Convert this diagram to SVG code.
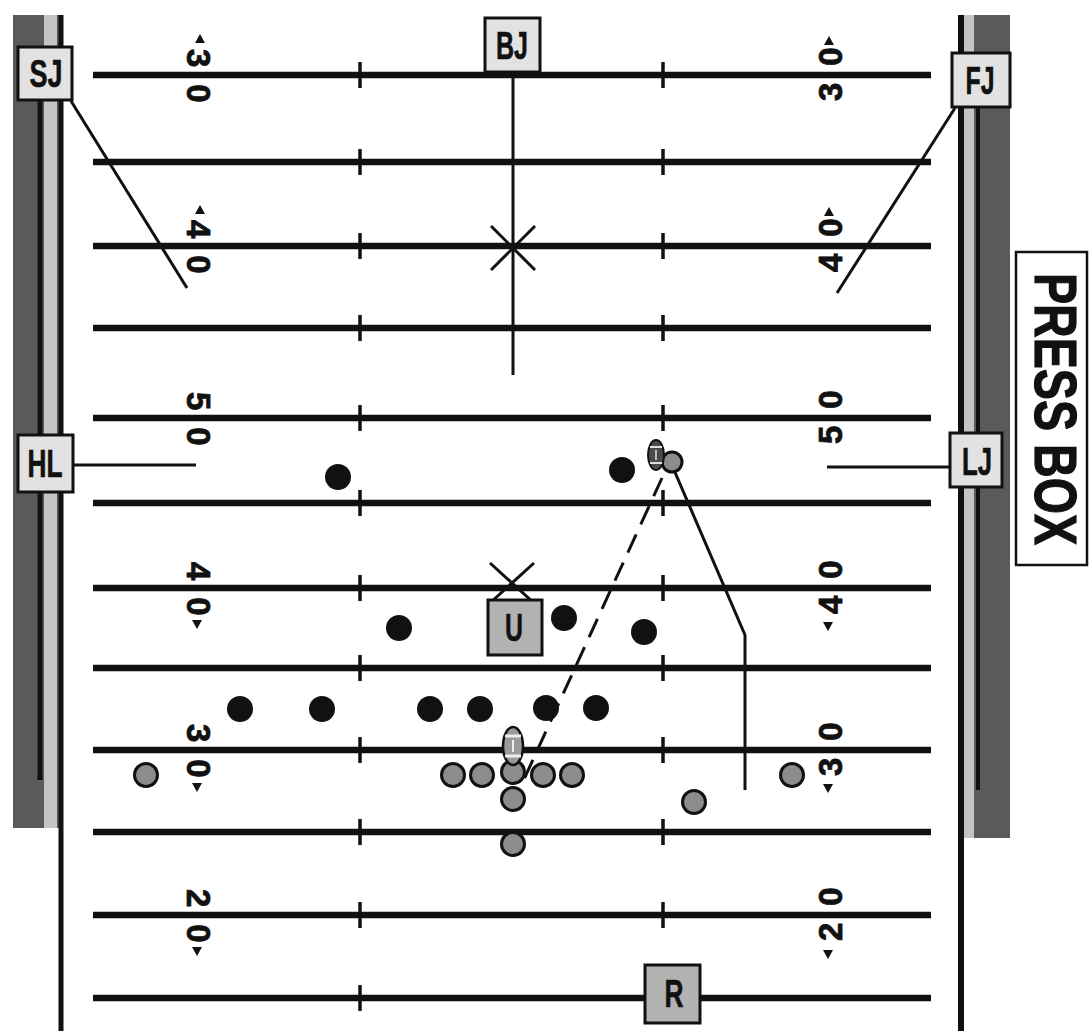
<svg xmlns="http://www.w3.org/2000/svg" width="1089" height="1031" viewBox="0 0 1089 1031">
<style>
.yl{stroke:#111;stroke-width:6.5;}
.tk{stroke:#111;stroke-width:3.5;}
.num{font-family:"Liberation Sans",Arial,sans-serif;font-weight:bold;font-size:33px;fill:#111;stroke:#111;stroke-width:0.8;letter-spacing:17px;}
.arw{fill:#111;}
.box{fill:#e2e2e2;stroke:#111;stroke-width:3;}
.boxd{fill:#b2b2b2;stroke:#111;stroke-width:3;}
.lbl{font-family:"Liberation Sans",Arial,sans-serif;font-weight:bold;font-size:38px;fill:#111;stroke:#111;stroke-width:0.6;text-anchor:middle;}
.ln{stroke:#111;stroke-width:3;fill:none;}
.def{fill:#111;}
.off{fill:#8c8c8c;stroke:#111;stroke-width:3;}
.press{font-family:"Liberation Sans",Arial,sans-serif;font-weight:bold;font-size:60px;fill:#111;stroke:#111;stroke-width:1.2;}
</style>
<rect x="0" y="0" width="1089" height="1031" fill="#ffffff"/>

<g id="sidelines">
  <rect x="13" y="15" width="46" height="813" fill="#5a5a5a"/>
  <rect x="44" y="15" width="13" height="813" fill="#c4c4c4"/>
  <line x1="40" y1="60" x2="40" y2="780" stroke="#111" stroke-width="5"/>
  <line x1="61" y1="15" x2="61" y2="1031" stroke="#111" stroke-width="5"/>
  <rect x="964" y="15" width="46" height="823" fill="#5a5a5a"/>
  <rect x="964" y="15" width="10" height="823" fill="#c4c4c4"/>
  <line x1="978" y1="60" x2="978" y2="790" stroke="#111" stroke-width="4"/>
  <line x1="961" y1="15" x2="961" y2="1031" stroke="#111" stroke-width="6"/>
</g>

<g id="yardlines">
  <line class="yl" x1="93" y1="75" x2="931" y2="75"/>
  <line class="yl" x1="93" y1="162" x2="931" y2="162"/>
  <line class="yl" x1="93" y1="246" x2="931" y2="246"/>
  <line class="yl" x1="93" y1="328" x2="931" y2="328"/>
  <line class="yl" x1="93" y1="418" x2="931" y2="418"/>
  <line class="yl" x1="93" y1="503" x2="931" y2="503"/>
  <line class="yl" x1="93" y1="588" x2="931" y2="588"/>
  <line class="yl" x1="93" y1="668" x2="931" y2="668"/>
  <line class="yl" x1="93" y1="750" x2="931" y2="750"/>
  <line class="yl" x1="93" y1="832" x2="931" y2="832"/>
  <line class="yl" x1="93" y1="915" x2="931" y2="915"/>
  <line class="yl" x1="93" y1="998" x2="931" y2="998"/>
</g>
<g id="hashmarks">
  <line class="tk" x1="360" y1="62" x2="360" y2="88"/><line class="tk" x1="663" y1="62" x2="663" y2="88"/>
  <line class="tk" x1="360" y1="149" x2="360" y2="175"/><line class="tk" x1="663" y1="149" x2="663" y2="175"/>
  <line class="tk" x1="360" y1="233" x2="360" y2="259"/><line class="tk" x1="663" y1="233" x2="663" y2="259"/>
  <line class="tk" x1="360" y1="315" x2="360" y2="341"/><line class="tk" x1="663" y1="315" x2="663" y2="341"/>
  <line class="tk" x1="360" y1="405" x2="360" y2="431"/><line class="tk" x1="663" y1="405" x2="663" y2="431"/>
  <line class="tk" x1="360" y1="490" x2="360" y2="516"/><line class="tk" x1="663" y1="490" x2="663" y2="516"/>
  <line class="tk" x1="360" y1="575" x2="360" y2="601"/><line class="tk" x1="663" y1="575" x2="663" y2="601"/>
  <line class="tk" x1="360" y1="655" x2="360" y2="681"/><line class="tk" x1="663" y1="655" x2="663" y2="681"/>
  <line class="tk" x1="360" y1="737" x2="360" y2="763"/><line class="tk" x1="663" y1="737" x2="663" y2="763"/>
  <line class="tk" x1="360" y1="819" x2="360" y2="845"/><line class="tk" x1="663" y1="819" x2="663" y2="845"/>
  <line class="tk" x1="360" y1="902" x2="360" y2="928"/><line class="tk" x1="663" y1="902" x2="663" y2="928"/>
  <line class="tk" x1="360" y1="985" x2="360" y2="1011"/>
</g>

<g id="yard-numbers">
  <text class="num" transform="translate(187,49) rotate(90)">30</text>
  <text class="num" transform="translate(187,220) rotate(90)">40</text>
  <text class="num" transform="translate(187,392) rotate(90)">50</text>
  <text class="num" transform="translate(187,562) rotate(90)">40</text>
  <text class="num" transform="translate(187,724) rotate(90)">30</text>
  <text class="num" transform="translate(187,889) rotate(90)">20</text>
  <text class="num" transform="translate(842,101) rotate(-90)">30</text>
  <text class="num" transform="translate(842,272) rotate(-90)">40</text>
  <text class="num" transform="translate(842,444) rotate(-90)">50</text>
  <text class="num" transform="translate(842,614) rotate(-90)">40</text>
  <text class="num" transform="translate(842,776) rotate(-90)">30</text>
  <text class="num" transform="translate(842,941) rotate(-90)">20</text>
  <polygon class="arw" points="200,34 195,43 205,43"/>
  <polygon class="arw" points="200,205 195,214 205,214"/>
  <polygon class="arw" points="192,620 202,620 197,629"/>
  <polygon class="arw" points="192,783 202,783 197,792"/>
  <polygon class="arw" points="192,947 202,947 197,956"/>
  <polygon class="arw" points="829,36 824,45 834,45"/>
  <polygon class="arw" points="829,207 824,216 834,216"/>
  <polygon class="arw" points="823,622 833,622 828,631"/>
  <polygon class="arw" points="823,784 833,784 828,793"/>
  <polygon class="arw" points="823,950 833,950 828,959"/>
</g>

<g id="connectors">
  <line class="ln" x1="71" y1="101" x2="187" y2="288"/>
  <line class="ln" x1="955" y1="108" x2="837" y2="293"/>
  <line class="ln" x1="513" y1="75" x2="513" y2="375"/>
  <line class="ln" x1="491" y1="226" x2="535" y2="270" stroke-width="3.5"/>
  <line class="ln" x1="535" y1="226" x2="491" y2="270" stroke-width="3.5"/>
  <line class="ln" x1="73" y1="465" x2="196" y2="465"/>
  <line class="ln" x1="827" y1="467" x2="950" y2="467"/>
  <line class="ln" x1="490" y1="563" x2="534" y2="603" stroke-width="3.5"/>
  <line class="ln" x1="534" y1="563" x2="490" y2="603" stroke-width="3.5"/>
  <polyline class="ln" points="674,470 745,635 745,790"/>
  <line class="ln" x1="662" y1="478" x2="520" y2="788" stroke-width="3.5" stroke-dasharray="20 11"/>
</g>

<g id="defense">
  <circle class="def" cx="338" cy="477" r="13"/>
  <circle class="def" cx="622" cy="470" r="13"/>
  <circle class="def" cx="399" cy="628" r="13"/>
  <circle class="def" cx="564" cy="618" r="13"/>
  <circle class="def" cx="644" cy="632" r="13"/>
  <circle class="def" cx="240" cy="709" r="13"/>
  <circle class="def" cx="322" cy="709" r="13"/>
  <circle class="def" cx="430" cy="709" r="13"/>
  <circle class="def" cx="480" cy="709" r="13"/>
  <circle class="def" cx="546" cy="708" r="13"/>
  <circle class="def" cx="596" cy="708" r="13"/>
</g>

<g id="offense">
  <circle class="off" cx="146" cy="775" r="11.5"/>
  <circle class="off" cx="453" cy="775" r="11.5"/>
  <circle class="off" cx="482" cy="775" r="11.5"/>
  <circle class="off" cx="513" cy="772" r="11.5"/>
  <circle class="off" cx="543" cy="775" r="11.5"/>
  <circle class="off" cx="572" cy="775" r="11.5"/>
  <circle class="off" cx="513" cy="799" r="11.5"/>
  <circle class="off" cx="513" cy="844" r="11.5"/>
  <circle class="off" cx="694" cy="802" r="11.5"/>
  <circle class="off" cx="792" cy="775" r="11.5"/>
  <circle class="off" cx="672" cy="462" r="10"/>
</g>

<g id="ball-catch">
  <ellipse cx="656" cy="455" rx="8" ry="15" fill="#4a4a4a" stroke="#111" stroke-width="2"/>
  <line x1="650" y1="447" x2="662" y2="447" stroke="#ddd" stroke-width="2"/>
  <line x1="650" y1="463" x2="662" y2="463" stroke="#ddd" stroke-width="2"/>
  <line x1="656" y1="450" x2="656" y2="460" stroke="#ddd" stroke-width="1.5"/>
</g>
<g id="ball-snap">
  <ellipse cx="513" cy="746" rx="10" ry="19" fill="#9a9a9a" stroke="#111" stroke-width="2.5"/>
  <line x1="505" y1="736" x2="521" y2="736" stroke="#eee" stroke-width="3"/>
  <line x1="505" y1="756" x2="521" y2="756" stroke="#eee" stroke-width="3"/>
  <line x1="513" y1="740" x2="513" y2="752" stroke="#eee" stroke-width="2"/>
</g>

<g id="SJ"><rect class="box" x="18" y="47" width="54" height="53"/><text class="lbl" x="46" y="87" textLength="33" lengthAdjust="spacingAndGlyphs">SJ</text></g>
<g id="BJ"><rect class="box" x="485" y="18" width="55" height="54"/><text class="lbl" x="512" y="59" textLength="32" lengthAdjust="spacingAndGlyphs">BJ</text></g>
<g id="FJ"><rect class="box" x="952" y="53" width="58" height="54"/><text class="lbl" x="980" y="94" textLength="29" lengthAdjust="spacingAndGlyphs">FJ</text></g>
<g id="HL"><rect class="box" x="18" y="435" width="55" height="57"/><text class="lbl" x="45" y="477" textLength="35" lengthAdjust="spacingAndGlyphs">HL</text></g>
<g id="LJ"><rect class="box" x="950" y="433" width="52" height="54"/><text class="lbl" x="977" y="475" textLength="30" lengthAdjust="spacingAndGlyphs">LJ</text></g>
<g id="U"><rect class="boxd" x="488" y="600" width="54" height="55"/><text class="lbl" x="514" y="641" textLength="18" lengthAdjust="spacingAndGlyphs">U</text></g>
<g id="R"><rect class="boxd" x="645" y="965" width="55" height="58"/><text class="lbl" x="674" y="1007" textLength="19" lengthAdjust="spacingAndGlyphs">R</text></g>

<g id="press-box">
  <rect x="1016" y="252" width="71" height="313" fill="#ffffff" stroke="#111" stroke-width="2.5"/>
  <text class="press" transform="translate(1035,273) rotate(90)" textLength="272" lengthAdjust="spacingAndGlyphs">PRESS BOX</text>
</g>
</svg>
